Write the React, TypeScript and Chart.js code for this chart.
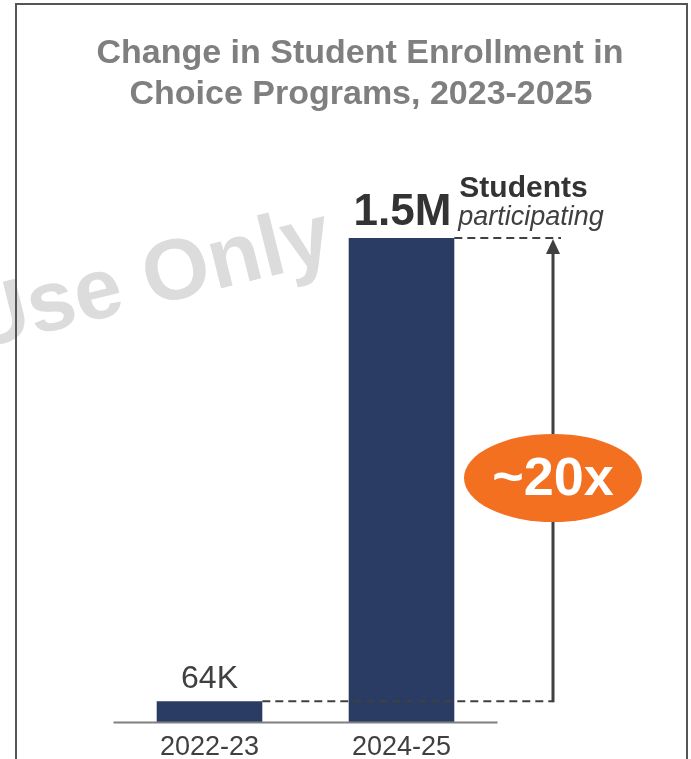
import React, { useEffect, useRef } from 'react';
import { Chart, registerables } from 'chart.js';

Chart.register(...registerables);

const categories = ['2022-23', '2024-25'];
const enrollment = [64000, 1500000];
const valueLabels = ['64K', '1.5M'];
const yMax = 1500000;
const multiplierLabel = '~20x';
const unitLabel = 'Students';
const unitSubLabel = 'participating';
const titleLines = ['Change in Student Enrollment in', 'Choice Programs, 2023-2025'];
const watermarkText = 'Use Only';

const FONT = '"Liberation Sans", Arial, Helvetica, sans-serif';
const BAR_COLOR = '#2a3b64';
const DARK = '#333333';
const MID = '#404040';

const annotPlugin = {
  id: 'annot',
  beforeDraw(chart: any) {
    const ctx = chart.ctx as CanvasRenderingContext2D;
    ctx.save();
    ctx.fillStyle = '#ffffff';
    ctx.fillRect(0, 0, chart.width, chart.height);
    // watermark
    ctx.translate(-26, 350);
    ctx.rotate((-14 * Math.PI) / 180);
    ctx.font = `bold 86px ${FONT}`;
    ctx.fillStyle = '#dcdcdc';
    ctx.textBaseline = 'alphabetic';
    ctx.textAlign = 'left';
    ctx.fillText(watermarkText, 0, 0);
    ctx.restore();
  },
  afterDraw(chart: any) {
    const ctx = chart.ctx as CanvasRenderingContext2D;
    const area = chart.chartArea;
    const meta = chart.getDatasetMeta(0);
    const b0 = meta.data[0] as any;
    const b1 = meta.data[1] as any;
    ctx.save();

    // frame
    ctx.strokeStyle = '#555555';
    ctx.lineWidth = 2;
    ctx.beginPath();
    ctx.moveTo(16, chart.height + 10);
    ctx.lineTo(16, 4);
    ctx.lineTo(687, 4);
    ctx.lineTo(687, chart.height + 10);
    ctx.stroke();

    // title
    ctx.fillStyle = '#7f7f7f';
    ctx.font = `bold 34px ${FONT}`;
    ctx.textAlign = 'center';
    ctx.textBaseline = 'alphabetic';
    ctx.fillText(titleLines[0], 360, 63);
    ctx.fillText(titleLines[1], 361, 104);

    // axis line
    ctx.strokeStyle = '#808080';
    ctx.lineWidth = 2;
    ctx.beginPath();
    ctx.moveTo(area.left, area.bottom + 0.5);
    ctx.lineTo(area.right, area.bottom + 0.5);
    ctx.stroke();

    const arrowX = area.right + 55.5;

    // dashed lines
    ctx.strokeStyle = MID;
    ctx.lineWidth = 2;
    ctx.setLineDash([8, 5]);
    ctx.beginPath();
    ctx.moveTo(b0.x + b0.width / 2, b0.y);
    ctx.lineTo(arrowX, b0.y);
    ctx.moveTo(b1.x + b1.width / 2, b1.y);
    ctx.lineTo(arrowX + 8, b1.y);
    ctx.stroke();
    ctx.setLineDash([]);

    // vertical arrow
    ctx.lineWidth = 3;
    ctx.beginPath();
    ctx.moveTo(arrowX, b0.y + 1);
    ctx.lineTo(arrowX, b1.y + 12);
    ctx.stroke();
    ctx.fillStyle = MID;
    ctx.beginPath();
    ctx.moveTo(arrowX, b1.y + 1);
    ctx.lineTo(arrowX - 7, b1.y + 16);
    ctx.lineTo(arrowX + 7, b1.y + 16);
    ctx.closePath();
    ctx.fill();

    // ellipse
    const ey = 478;
    ctx.fillStyle = '#f37021';
    ctx.beginPath();
    ctx.ellipse(arrowX, ey, 89, 44, 0, 0, Math.PI * 2);
    ctx.fill();
    ctx.fillStyle = '#ffffff';
    ctx.font = `bold 54px ${FONT}`;
    ctx.textAlign = 'center';
    ctx.textBaseline = 'middle';
    ctx.fillText(multiplierLabel, arrowX, ey + 2);

    // value labels
    ctx.textBaseline = 'alphabetic';
    ctx.fillStyle = MID;
    ctx.font = `32px ${FONT}`;
    ctx.textAlign = 'center';
    ctx.fillText(valueLabels[0], b0.x, b0.y - 13);

    ctx.fillStyle = DARK;
    ctx.font = `bold 44px ${FONT}`;
    ctx.textAlign = 'right';
    ctx.fillText(valueLabels[1], b1.x + b1.width / 2 - 3, b1.y - 13);

    ctx.textAlign = 'left';
    ctx.font = `bold 30px ${FONT}`;
    ctx.fillText(unitLabel, b1.x + b1.width / 2 + 5, b1.y - 41);
    ctx.fillStyle = MID;
    ctx.font = `italic 27px ${FONT}`;
    ctx.fillText(unitSubLabel, b1.x + b1.width / 2 + 4, b1.y - 13);

    ctx.restore();
  },
};

export default function App() {
  const ref = useRef<HTMLCanvasElement | null>(null);
  useEffect(() => {
    if (!ref.current) return;
    const chart = new Chart(ref.current, {
      type: 'bar',
      data: {
        labels: categories,
        datasets: [
          {
            data: enrollment,
            backgroundColor: BAR_COLOR,
            borderWidth: 0,
            categoryPercentage: 1,
            barPercentage: 0.55,
          },
        ],
      },
      options: {
        responsive: false,
        animation: false,
        events: [],
        layout: { padding: { left: 113.5, right: 193.5, top: 238, bottom: 0 } },
        plugins: {
          legend: { display: false },
          title: { display: false },
          tooltip: { enabled: false },
        },
        scales: {
          x: {
            grid: { display: false, drawTicks: false },
            border: { display: false },
            ticks: {
              padding: 9,
              color: MID,
              font: { family: FONT, size: 27, lineHeight: '34px' as any },
            },
          },
          y: {
            display: false,
            min: 0,
            max: yMax,
          },
        },
      },
      plugins: [annotPlugin],
    });
    return () => chart.destroy();
  }, []);
  return (
    <div style={{ position: 'fixed', left: 0, top: 0, width: 691, height: 759, overflow: 'hidden', background: '#fff' }}>
      <canvas ref={ref} width={691} height={774} style={{ display: 'block', width: 691, height: 774 }} />
    </div>
  );
}
